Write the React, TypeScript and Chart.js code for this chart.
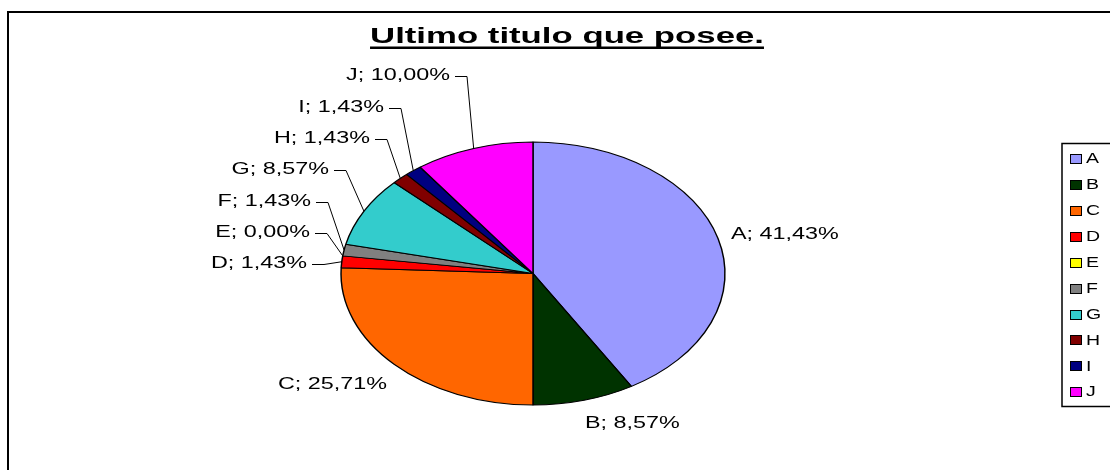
import React, { useEffect, useRef } from "react";
import { Chart, registerables } from "chart.js";

Chart.register(...registerables);

// ---- data ----
const categories = ["A", "B", "C", "D", "E", "F", "G", "H", "I", "J"];
const percentages = [41.43, 8.57, 25.71, 1.43, 0.0, 1.43, 8.57, 1.43, 1.43, 10.0];
const sliceColors = [
  "#9999FF", "#003300", "#FF6600", "#FF0000", "#FFFF00",
  "#808080", "#33CCCC", "#800000", "#000080", "#FF00FF",
];
const titleText = "Ultimo titulo que posee.";

// ---- layout (styling only) ----
const W = 1110;
const H = 470;
const CX = 533; // pie centre x
const CY = 273.5; // pie centre y
const RY = 131.5; // vertical radius
const SX = 1.46; // horizontal stretch of the pie (Excel-like oval)
const FONT = "'Liberation Sans', Arial, Helvetica, sans-serif";
const LABEL_SIZE = 16;
const LABEL_STRETCH = 1.46;
const TITLE_SIZE = 22;
const TITLE_STRETCH = 1.58;
const LEGEND_SIZE = 15;
const LEGEND_STRETCH = 1.3;

// label placement relative to pie centre (Excel manual placement)
const labelDX = [198, 52, -146, -226, -223, -222, -204, -163, -149, -83];
const labelDY = [-38.5, 150.5, 111.5, -10, -40.5, -71.5, -103.5, -134.5, -165.5, -197.5];
const labelAlign = ["left", "left", "right", "right", "right", "right", "right", "right", "right", "right"];
const labelLeader = [false, false, false, true, true, true, true, true, true, true];

function fmt(v: number) {
  return v.toFixed(2).replace(".", ",") + "%";
}

function stretchedText(
  ctx: CanvasRenderingContext2D,
  text: string,
  x: number,
  y: number,
  align: CanvasTextAlign,
  font: string,
  sx: number,
  baseline: CanvasTextBaseline = "middle"
) {
  ctx.save();
  ctx.translate(x, y);
  ctx.scale(sx, 1);
  ctx.font = font;
  ctx.textAlign = align;
  ctx.textBaseline = baseline;
  ctx.fillStyle = "#000";
  ctx.fillText(text, 0, 0);
  ctx.restore();
}

const ovalPlugin = {
  id: "ovalPie",
  beforeDatasetsDraw(chart: any) {
    const ctx = chart.ctx;
    const el = chart.getDatasetMeta(0).data[0];
    ctx.save();
    ctx.translate(el.x, el.y);
    ctx.scale(SX, 1);
    ctx.translate(-el.x, -el.y);
  },
  afterDatasetsDraw(chart: any) {
    chart.ctx.restore();
  },
};

const decorPlugin = {
  id: "decor",
  afterDraw(chart: any) {
    const ctx: CanvasRenderingContext2D = chart.ctx;
    // outer frame
    ctx.save();
    ctx.strokeStyle = "#000";
    ctx.lineWidth = 2;
    ctx.strokeRect(8, 12, 1400, 1000);
    ctx.restore();

    // title
    const tFont = `bold ${TITLE_SIZE}px ${FONT}`;
    ctx.save();
    ctx.font = tFont;
    const tw = ctx.measureText(titleText).width * TITLE_STRETCH;
    ctx.restore();
    const tcx = 567;
    stretchedText(ctx, titleText, tcx, 43, "center", tFont, TITLE_STRETCH, "alphabetic");
    ctx.fillStyle = "#000";
    ctx.fillRect(tcx - tw / 2, 46.5, tw, 2.5);

    // data labels + leader lines
    const meta = chart.getDatasetMeta(0);
    const lFont = `${LABEL_SIZE}px ${FONT}`;
    meta.data.forEach((el: any, i: number) => {
      const mid = (el.startAngle + el.endAngle) / 2;
      const px = el.x + SX * el.outerRadius * Math.cos(mid);
      const py = el.y + el.outerRadius * Math.sin(mid);
      const lx = el.x + labelDX[i];
      const ly = el.y + labelDY[i];
      const text = `${categories[i]}; ${fmt(percentages[i])}`;
      stretchedText(ctx, text, lx, ly, labelAlign[i] as CanvasTextAlign, lFont, LABEL_STRETCH);
      if (labelLeader[i]) {
        const yy = Math.round(ly) + 0.5;
        ctx.save();
        ctx.strokeStyle = "#000";
        ctx.lineWidth = 1;
        ctx.beginPath();
        ctx.moveTo(lx + 5, yy);
        ctx.lineTo(lx + 17, yy);
        ctx.lineTo(px, py);
        ctx.stroke();
        ctx.restore();
      }
    });

    // legend
    const bx = 1062;
    const by = 143.5;
    ctx.save();
    ctx.strokeStyle = "#000";
    ctx.lineWidth = 1.5;
    ctx.strokeRect(bx, by, 200, 263);
    ctx.restore();
    const gFont = `${LEGEND_SIZE}px ${FONT}`;
    const labels: string[] = chart.data.labels;
    const colors: string[] = chart.data.datasets[0].backgroundColor;
    labels.forEach((lab, i) => {
      const cy = 158.3 + i * 25.95;
      ctx.save();
      ctx.fillStyle = colors[i];
      ctx.fillRect(1070.5, Math.round(cy - 4.5) + 0.5, 11, 9);
      ctx.strokeStyle = "#000";
      ctx.lineWidth = 1;
      ctx.strokeRect(1070.5, Math.round(cy - 4.5) + 0.5, 11, 9);
      ctx.restore();
      stretchedText(ctx, lab, 1086, cy + 0.5, "left", gFont, LEGEND_STRETCH);
    });
  },
};

export default function App() {
  const ref = useRef<HTMLCanvasElement | null>(null);
  useEffect(() => {
    if (!ref.current) return;
    const chart = new Chart(ref.current, {
      type: "pie",
      data: {
        labels: categories,
        datasets: [
          {
            data: percentages,
            backgroundColor: sliceColors,
            borderColor: "#000",
            borderWidth: 1,
            radius: RY,
            clip: false,
          } as any,
        ],
      },
      options: {
        responsive: false,
        maintainAspectRatio: false,
        animation: false,
        devicePixelRatio: 1,
        events: [],
        layout: {
          padding: { left: 0, right: W - 2 * CX, top: 2 * CY - H, bottom: 0 },
        },
        plugins: {
          legend: { display: false },
          title: { display: false },
          tooltip: { enabled: false },
        },
      } as any,
      plugins: [ovalPlugin, decorPlugin],
    });
    return () => chart.destroy();
  }, []);
  return (
    <div style={{ position: "fixed", left: 0, top: 0, width: W, height: H, background: "#fff" }}>
      <canvas ref={ref} width={W} height={H} style={{ display: "block" }} />
    </div>
  );
}
